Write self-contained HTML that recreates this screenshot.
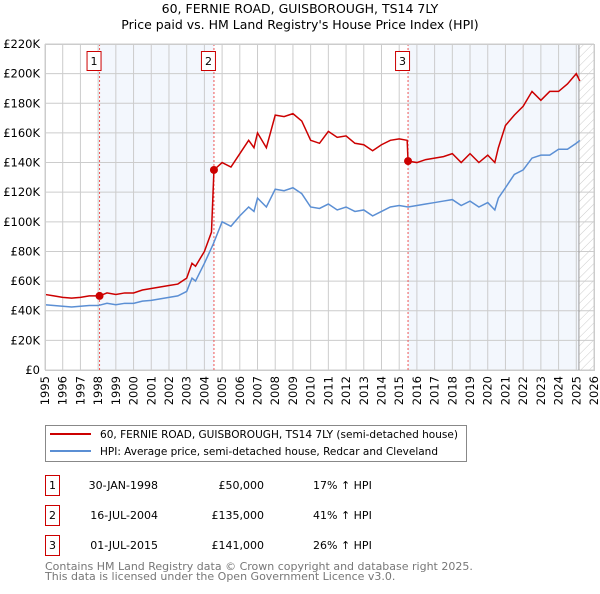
<!DOCTYPE html>
<html><head><meta charset="utf-8"><style>
body{margin:0;background:#fff;font-family:"DejaVu Sans","Liberation Sans",sans-serif;}
svg text{font-family:"DejaVu Sans","Liberation Sans",sans-serif;}
</style></head><body>
<svg id="c" width="600" height="590" xmlns="http://www.w3.org/2000/svg">
<defs><pattern id="hatch" width="6" height="6" patternUnits="userSpaceOnUse" patternTransform="rotate(45)"><line x1="0" y1="0" x2="0" y2="6" stroke="#ccc" stroke-width="1"/></pattern></defs>
<text x="300" y="13" text-anchor="middle" font-size="12.5">60, FERNIE ROAD, GUISBOROUGH, TS14 7LY</text>
<text x="300" y="29" text-anchor="middle" font-size="12.5">Price paid vs. HM Land Registry's House Price Index (HPI)</text>
<g id="plot"></g>
<g>
<rect x="45.5" y="425.5" width="421" height="36" fill="#fff" stroke="#888"/>
<line x1="50" y1="434" x2="91" y2="434" stroke="#cc0000" stroke-width="2"/>
<text x="100" y="438" font-size="10.5" textLength="358" lengthAdjust="spacingAndGlyphs">60, FERNIE ROAD, GUISBOROUGH, TS14 7LY (semi-detached house)</text>
<line x1="50" y1="451" x2="91" y2="451" stroke="#5b8fd4" stroke-width="2"/>
<text x="100" y="455" font-size="10.5" textLength="338" lengthAdjust="spacingAndGlyphs">HPI: Average price, semi-detached house, Redcar and Cleveland</text>
</g>
<g font-size="11">
<rect x="45.5" y="475.5" width="14" height="20" fill="#fff" stroke="#cc0000"/><text x="52.5" y="489" text-anchor="middle">1</text>
<text x="158" y="489" text-anchor="end">30-JAN-1998</text><text x="264" y="489" text-anchor="end">£50,000</text><text x="313" y="489">17% ↑ HPI</text>
<rect x="45.5" y="505.5" width="14" height="20" fill="#fff" stroke="#cc0000"/><text x="52.5" y="519" text-anchor="middle">2</text>
<text x="158" y="519" text-anchor="end">16-JUL-2004</text><text x="264" y="519" text-anchor="end">£135,000</text><text x="313" y="519">41% ↑ HPI</text>
<rect x="45.5" y="535.5" width="14" height="20" fill="#fff" stroke="#cc0000"/><text x="52.5" y="549" text-anchor="middle">3</text>
<text x="158" y="549" text-anchor="end">01-JUL-2015</text><text x="264" y="549" text-anchor="end">£141,000</text><text x="313" y="549">26% ↑ HPI</text>
</g>
<text x="45" y="570" font-size="11" fill="#777">Contains HM Land Registry data © Crown copyright and database right 2025.</text>
<text x="45" y="580" font-size="11" fill="#777">This data is licensed under the Open Government Licence v3.0.</text>
</svg>
<script>
const hpiYears=[1995,1995.5,1996,1996.5,1997,1997.5,1998,1998.5,1999,1999.5,2000,2000.5,2001,2001.5,2002,2002.5,2003,2003.3,2003.5,2004,2004.5,2005,2005.5,2006,2006.5,2006.8,2007,2007.5,2008,2008.5,2009,2009.5,2010,2010.5,2011,2011.5,2012,2012.5,2013,2013.5,2014,2014.5,2015,2015.5,2016,2016.5,2017,2017.5,2018,2018.5,2019,2019.5,2020,2020.4,2020.6,2021,2021.5,2022,2022.5,2023,2023.5,2024,2024.5,2025,2025.2];
const hpiValues=[44,43.5,43,42.5,43,43.5,43.5,45,44,45,45,46.5,47,48,49,50,53,62,60,72,85,100,97,104,110,107,116,110,122,121,123,119,110,109,112,108,110,107,108,104,107,110,111,110,111,112,113,114,115,111,114,110,113,108,116,123,132,135,143,145,145,149,149,153,155];
const priceYears=[1995,1995.5,1996,1996.5,1997,1997.5,1998.08,1998.5,1999,1999.5,2000,2000.5,2001,2001.5,2002,2002.5,2003,2003.3,2003.5,2004,2004.4,2004.54,2005,2005.5,2006,2006.5,2006.8,2007,2007.5,2008,2008.5,2009,2009.5,2010,2010.5,2011,2011.5,2012,2012.5,2013,2013.5,2014,2014.5,2015,2015.45,2015.5,2016,2016.5,2017,2017.5,2018,2018.5,2019,2019.5,2020,2020.4,2020.6,2021,2021.5,2022,2022.5,2023,2023.5,2024,2024.5,2025,2025.2];
const priceValues=[51,50,49,48.5,49,50,50,52,51,52,52,54,55,56,57,58,62,72,70,80,93,135,140,137,146,155,150,160,150,172,171,173,168,155,153,161,157,158,153,152,148,152,155,156,155,141,140,142,143,144,146,140,146,140,145,140,150,165,172,178,188,182,188,188,193,200,195];
const sales=[[1998.08,50],[2004.54,135],[2015.5,141]];
const yTicks=[0,20,40,60,80,100,120,140,160,180,200,220];
const NS="http://www.w3.org/2000/svg";
const X0=45,X1=594,Y0=370,Y1=44;
function x(t){return X0+(t-1995)*(X1-X0)/31;}
function y(v){return Y0-v*(Y0-Y1)/220;}
const g=document.getElementById('plot');
function mk(tag,attrs,parent){const e=document.createElementNS(NS,tag);for(const k in attrs)e.setAttribute(k,attrs[k]);(parent||g).appendChild(e);return e;}
let e;
e=mk('rect',{x:x(1998.08),y:Y1,width:x(2004.54)-x(1998.08),height:Y0-Y1,fill:'#eef3fc',opacity:0.7});


e=mk('rect',{x:x(2015.5),y:Y1,width:x(2025.15)-x(2015.5),height:Y0-Y1,fill:'#eef3fc',opacity:0.7});


e=mk('rect',{x:x(2025.15),y:Y1,width:X1-x(2025.15),height:Y0-Y1,fill:'url(#hatch)'});


for(let yr=1995;yr<=2026;yr++){
 e=mk('line',{x1:x(yr),x2:x(yr),y1:Y1,y2:Y0,stroke:'#ccc','stroke-width':1});
 
 
 e=mk('text',{x:0,y:0,'font-size':11.5,'text-anchor':'end',transform:`translate(${x(yr)+4},${Y0+6}) rotate(-90)`});
 e.textContent=yr;
 
 
}
yTicks.forEach(v=>{
 e=mk('line',{x1:X0,x2:X1,y1:y(v),y2:y(v),stroke:'#ccc','stroke-width':1});
 
 
 e=mk('text',{x:X0-5,y:y(v)+4,'font-size':11.5,'text-anchor':'end'});
 e.textContent=v===0?'£0':'£'+v+'K';
 
 
});
e=mk('line',{x1:x(2025.15),x2:x(2025.15),y1:Y1,y2:Y0,stroke:'#999','stroke-width':1});


sales.forEach((s,i)=>{
 e=mk('line',{x1:x(s[0]),x2:x(s[0]),y1:Y1,y2:Y0,stroke:'#e55','stroke-width':1,'stroke-dasharray':'2,2'});
 
 
 e=mk('rect',{x:x(s[0])-12.5,y:51.5,width:14,height:19,fill:'#fff',stroke:'#cc0000'});
 
 
 e=mk('text',{x:x(s[0])-5.5,y:65,'font-size':11,'text-anchor':'middle'});
 e.textContent=String(i+1);
 
 
});
e=mk('polyline',{points:hpiYears.map((t,i)=>x(t)+','+y(hpiValues[i])).join(' '),fill:'none',stroke:'#5b8fd4','stroke-width':1.5});


e=mk('polyline',{points:priceYears.map((t,i)=>x(t)+','+y(priceValues[i])).join(' '),fill:'none',stroke:'#cc0000','stroke-width':1.5});


sales.forEach(s=>{
 e=mk('circle',{cx:x(s[0]),cy:y(s[1]),r:4,fill:'#cc0000'});
 
 
});
e=mk('rect',{x:X0+0.5,y:Y1+0.5,width:X1-X0,height:Y0-Y1,fill:'none',stroke:'#ccc'});


</script>
</body></html>
